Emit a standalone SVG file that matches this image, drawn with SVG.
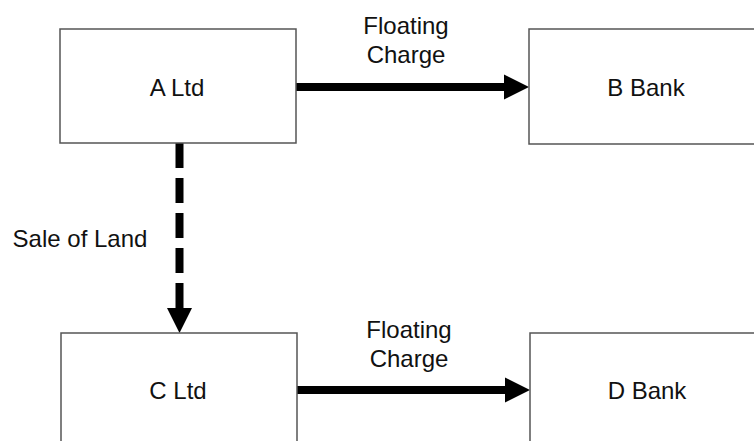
<svg xmlns="http://www.w3.org/2000/svg" width="754" height="441" viewBox="0 0 754 441">
<style>
.box{fill:#fff;stroke:#555;stroke-width:1.5}
.lbl{font-family:"Liberation Sans",Arial,sans-serif;font-size:24px;fill:#111;text-anchor:middle}
.conn{stroke:#000;stroke-width:8;fill:none}
</style>
<defs>
<marker id="ah" markerUnits="userSpaceOnUse" markerWidth="26" markerHeight="26" refX="0" refY="12.5" orient="auto" overflow="visible">
<path d="M0,0 L25,12.5 L0,25 Z" fill="#000"/>
</marker>
</defs>
<rect width="754" height="441" fill="#fff"/>
<g id="connectors">
<line class="conn" x1="296" y1="87" x2="504" y2="87" marker-end="url(#ah)"/>
<line class="conn" x1="297" y1="390" x2="505" y2="390" marker-end="url(#ah)"/>
<line class="conn" x1="179.5" y1="143" x2="179.5" y2="308" stroke-dasharray="25 10" marker-end="url(#ah)"/>
<text class="lbl" x="406" y="34">Floating</text>
<text class="lbl" x="406" y="63">Charge</text>
<text class="lbl" x="409" y="338">Floating</text>
<text class="lbl" x="409" y="367">Charge</text>
<text class="lbl" x="80" y="247">Sale of Land</text>
</g>
<g id="a-ltd">
<rect class="box" x="60" y="29" width="236" height="114"/>
<text class="lbl" x="177" y="96">A Ltd</text>
</g>
<g id="b-bank">
<rect class="box" x="529" y="29" width="236" height="115"/>
<text class="lbl" x="646" y="96">B Bank</text>
</g>
<g id="c-ltd">
<rect class="box" x="61" y="333" width="236" height="120"/>
<text class="lbl" x="178" y="399">C Ltd</text>
</g>
<g id="d-bank">
<rect class="box" x="530" y="333" width="236" height="120"/>
<text class="lbl" x="647" y="399">D Bank</text>
</g>
</svg>
